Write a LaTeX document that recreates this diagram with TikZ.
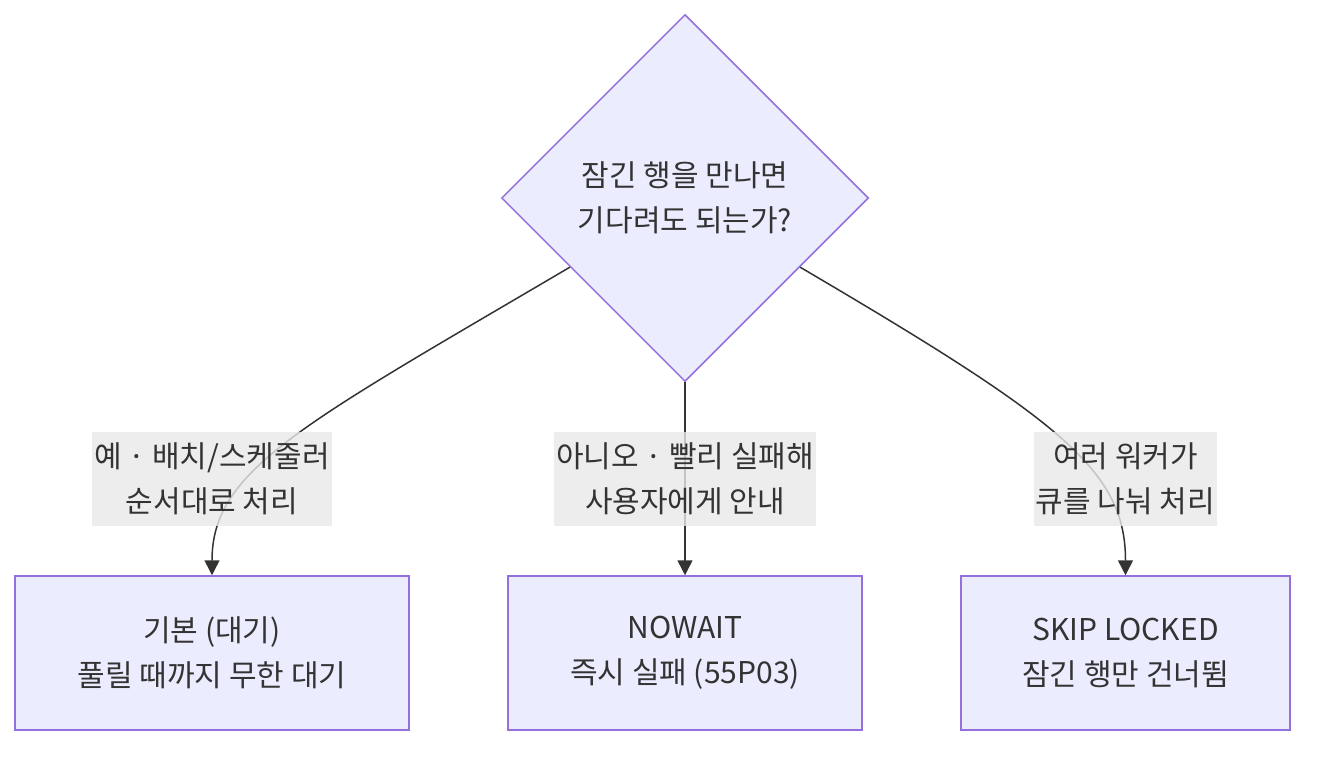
\documentclass[tikz,border=0pt]{standalone}
\usepackage{fontspec}
\setmainfont{Noto Sans CJK KR}
\usetikzlibrary{arrows.meta, shapes.geometric}
\definecolor{lavande}{HTML}{ECECFF}
\definecolor{violet}{HTML}{9370DB}
\definecolor{encre}{HTML}{333333}
\definecolor{etiq}{HTML}{E8E8E8}

\begin{document}
\begin{tikzpicture}[x=1pt, y=-1pt,
    texte/.style={text=encre, align=center, font=\fontsize{30}{45}\selectfont},
    boite/.style={texte, draw=violet, fill=lavande, line width=1.5pt, minimum height=154pt},
    etiquette/.style={texte, fill=etiq, fill opacity=0.8, text opacity=1, minimum height=94pt, inner xsep=2pt},
    fleche/.style={encre, line width=1.5pt, -{Triangle[length=15pt, width=15pt]}}]
    \useasboundingbox (0,0) rectangle (1322,756);
    % question
    \node[texte, shape=diamond, draw=violet, fill=lavande, line width=1.5pt,
      minimum width=367pt, minimum height=367pt, inner sep=0pt] (question) at (685,198)
      {잠긴 행을 만나면\\기다려도 되는가?};
    % les trois modes
    \node[boite, minimum width=394pt] (attente) at (212,653) {기본 (대기)\\풀릴 때까지 무한 대기};
    \node[boite, minimum width=354pt] (nowait) at (685,653) {NOWAIT\\즉시 실패 (55P03)};
    \node[boite, minimum width=329pt] (skip) at (1125.5,653) {SKIP LOCKED\\잠긴 행만 건너뜀};
    % liens
    \draw[fleche] (question.-149) .. controls (300,426) and (212,470) .. (attente.north);
    \draw[fleche] (question.south) -- (nowait.north);
    \draw[fleche] (question.-31) .. controls (1060,420) and (1125.5,470) .. (skip.north);
    \node[etiquette] (lab-oui) at (212,479) {예 · 배치/스케줄러\\순서대로 처리};
    \node[etiquette] (lab-non) at (685,479) {아니오 · 빨리 실패해\\사용자에게 안내};
    \node[etiquette] (lab-skip) at (1125.5,479) {여러 워커가\\큐를 나눠 처리};
  \end{tikzpicture}
\end{document}
